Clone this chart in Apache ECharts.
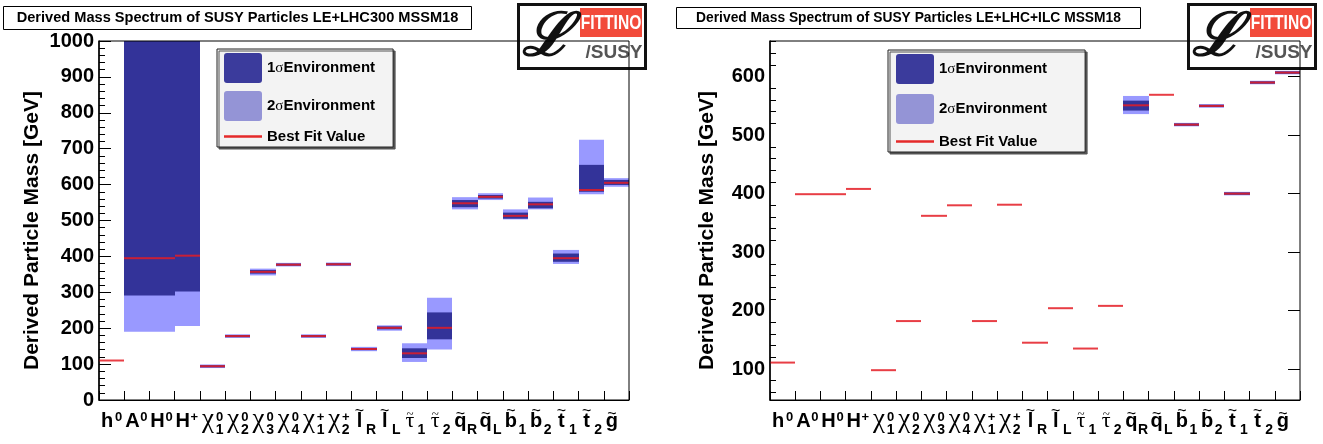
<!DOCTYPE html>
<html>
<head>
<meta charset="utf-8">
<script src="https://cdn.jsdelivr.net/npm/echarts@6/dist/echarts.min.js"></script>
<style>
  html, body { margin: 0; padding: 0; background: #ffffff; }
  #chart { width: 1323px; height: 444px; }
</style>
</head>
<body>
<div id="chart"></div>
<script>
// Particle categories (h0 ... gluino) and their axis label markup
const particles = ['h0', 'A0', 'H0', 'H+', 'chi10', 'chi20', 'chi30', 'chi40', 'chi1+', 'chi2+',
  'lR', 'lL', 'tau1', 'tau2', 'qR', 'qL', 'b1', 'b2', 't1', 't2', 'g'];
const particleLabels = [
  '{n| }{sp|0}\n{b|h}{sb| }',
  '{n| }{sp|0}\n{b|A}{sb| }',
  '{n| }{sp|0}\n{b|H}{sb| }',
  '{n| }{sp|+}\n{b|H}{sb| }',
  '{n| }{sp|0}\n{g|χ}{sb|1}',
  '{n| }{sp|0}\n{g|χ}{sb|2}',
  '{n| }{sp|0}\n{g|χ}{sb|3}',
  '{n| }{sp|0}\n{g|χ}{sb|4}',
  '{n| }{sp|+}\n{g|χ}{sb|1}',
  '{n| }{sp|+}\n{g|χ}{sb|2}',
  '{tl|~}{sp| }\n{b|l}{sb|R}',
  '{tl|~}{sp| }\n{b|l}{sb|L}',
  '{tg|~}{sp| }\n{t|τ}{sb|1}',
  '{tg|~}{sp| }\n{t|τ}{sb|2}',
  '{tx|~}{sp| }\n{b|q}{sb|R}',
  '{tx|~}{sp| }\n{b|q}{sb|L}',
  '{tl|~}{sp| }\n{b|b}{sb|1}',
  '{tl|~}{sp| }\n{b|b}{sb|2}',
  '{tl|~}{sp| }\n{b|t}{sb|1}',
  '{tl|~}{sp| }\n{b|t}{sb|2}',
  '{tx|~}{sp| }\n{b|g}{sb| }'
];

// LE+LHC300 fit: best fit masses and 1σ / 2σ environments [GeV]
const lhcBest   = [110, 395, 395, 402,  94, 178, 357, 377, 178, 378, 142, 201, 130, 201, 548, 566, 513, 545, 395, 585, 605];
const lhcSig1Lo = [null, 291, 291, 302,  91, 175, 352, 374, 175, 375, 139, 197, 117, 169, 537, 561, 505, 534, 385, 580, 599];
const lhcSig1Hi = [null, 1000, 1000, 1000, 97, 181, 362, 380, 181, 381, 145, 205, 144, 244, 557, 571, 522, 552, 408, 655, 613];
const lhcSig2Lo = [null, 190, 190, 206,  89, 173, 347, 372, 173, 373, 136, 193, 106, 141, 531, 557, 503, 531, 379, 573, 594];
const lhcSig2Hi = [null, 1000, 1000, 1000, 99, 183, 366, 382, 183, 383, 148, 208, 158, 285, 565, 576, 531, 564, 418, 725, 618];

// LE+LHC+ILC fit
const ilcBest   = [111, 399, 399, 408,  98, 182, 362, 380, 182, 381, 145, 204, 135, 208, 551, 569, 518, 550, 400, 590, 607];
const ilcSig1Lo = [null, null, null, null, null, null, null, null, null, null, null, null, null, null, 542, null, 516, 548, 398, 588, 605];
const ilcSig1Hi = [null, null, null, null, null, null, null, null, null, null, null, null, null, null, 559, null, 520, 552, 402, 592, 609];
const ilcSig2Lo = [null, null, null, null, null, null, null, null, null, null, null, null, null, null, 536, null, 515, 547, 397, 587, 604];
const ilcSig2Hi = [null, null, null, null, null, null, null, null, null, null, null, null, null, null, 567, null, 521, 553, 403, 593, 610];

// Axis ticks
const lhcMassTicks = [0, 100, 200, 300, 400, 500, 600, 700, 800, 900, 1000];
const ilcMassTicks = [100, 200, 300, 400, 500, 600];
const ilcMinorTicks = [60, 80, 120, 140, 160, 180, 220, 240, 260, 280, 320, 340, 360, 380,
  420, 440, 460, 480, 520, 540, 560, 580, 620, 640, 660];

const titleLeft = 'Derived Mass Spectrum of SUSY Particles LE+LHC300 MSSM18';
const titleRight = 'Derived Mass Spectrum of SUSY Particles LE+LHC+ILC MSSM18';
const yTitle = 'Derived Particle Mass [GeV]';
const legendNames = ['1σEnvironment', '2σEnvironment', 'Best Fit Value'];

const SANS = '"Liberation Sans", Arial, Helvetica, sans-serif';
const SERIF = '"Liberation Serif", "DejaVu Serif", "Times New Roman", serif';
const DARK = '#333399';
const LIGHT = '#9999ff';
const RED = 'rgba(228, 28, 36, 0.85)';

const chart = echarts.init(document.getElementById('chart'), null, { renderer: 'canvas' });

// one filled box per category between lo and hi, clipped to the frame
function renderBand(params, api) {
  const lo = api.value(1), hi = api.value(2);
  if (lo == null || hi == null || isNaN(lo) || isNaN(hi)) return;
  const top = api.coord([api.value(0), hi]);
  const bottom = api.coord([api.value(0), lo]);
  const w = api.size([1, 0])[0];
  const x0 = Math.round(top[0] - w / 2), x1 = Math.round(top[0] + w / 2);
  const cs = params.coordSys;
  const rect = echarts.graphic.clipRectByRect(
    { x: x0, y: top[1], width: x1 - x0, height: bottom[1] - top[1] },
    { x: cs.x, y: cs.y, width: cs.width, height: cs.height }
  );
  if (!rect) return;
  return { type: 'rect', shape: rect, style: { fill: api.visual('color') } };
}

// horizontal best-fit marker across the category width
function renderBest(params, api) {
  const v = api.value(1);
  if (v == null || isNaN(v)) return;
  const p = api.coord([api.value(0), v]);
  const w = api.size([1, 0])[0];
  return {
    type: 'line',
    shape: { x1: Math.round(p[0] - w / 2), y1: p[1], x2: Math.round(p[0] + w / 2), y2: p[1] },
    style: { stroke: RED, lineWidth: 2 }
  };
}

function bandSeries(name, gridIdx, yIdx, lo, hi, color) {
  return {
    type: 'custom', name: name, xAxisIndex: gridIdx, yAxisIndex: yIdx,
    renderItem: renderBand, itemStyle: { color: color },
    encode: { x: 0, y: [1, 2] },
    data: lo.map((v, i) => [i, v, hi[i]]),
    silent: true
  };
}

function bestSeries(gridIdx, yIdx, best) {
  return {
    type: 'custom', name: legendNames[2], xAxisIndex: gridIdx, yAxisIndex: yIdx,
    renderItem: renderBest, itemStyle: { color: '#e52a2a' },
    encode: { x: 0, y: 1 },
    data: best.map((v, i) => [i, v]),
    silent: true
  };
}

// tokens: top row = accent + superscript, bottom row = symbol + subscript
const tok = { lineHeight: 2, height: 2, verticalAlign: 'top', align: 'center' };
const labelRich = {
  n:  Object.assign({}, tok, { width: 14, fontSize: 14 }),
  tl: Object.assign({}, tok, { width: 14, fontSize: 16, fontFamily: SANS, padding: [3.5, 0, 0, 0] }),
  tx: Object.assign({}, tok, { width: 14, fontSize: 16, fontFamily: SANS, padding: [7, 0, 0, 0] }),
  tg: Object.assign({}, tok, { width: 14, fontSize: 13, fontFamily: SERIF, padding: [7, 0, 0, 0] }),
  sp: Object.assign({}, tok, { width: 9, fontSize: 13, fontWeight: 'bold', fontFamily: SANS, padding: [9.5, 0, 0, 0] }),
  b:  Object.assign({}, tok, { width: 14, fontSize: 20, fontWeight: 'bold', fontFamily: SANS, padding: [11, 0, 0, 0] }),
  g:  Object.assign({}, tok, { width: 14, fontSize: 27, fontFamily: SERIF, padding: [10, 0, 0, 0] }),
  t:  Object.assign({}, tok, { width: 14, fontSize: 22, fontFamily: SERIF, padding: [11, 0, 0, 0] }),
  sb: Object.assign({}, tok, { width: 9, fontSize: 14, fontWeight: 'bold', fontFamily: SANS, padding: [20.5, 0, 0, 0] })
};

function xAxisFor(gridIdx) {
  return {
    type: 'category', gridIndex: gridIdx, data: particles,
    boundaryGap: true,
    axisLine: { show: true, lineStyle: { color: '#000', width: 1 } },
    axisTick: { show: true, inside: true, length: 9, lineStyle: { color: '#000' } },
    axisLabel: {
      interval: 0, margin: 7, color: '#000',
      formatter: (value, index) => particleLabels[index],
      rich: labelRich
    },
    splitLine: { show: false }
  };
}

const yLabelStyle = { color: '#000', fontSize: 20, fontWeight: 'bold', fontFamily: SANS, margin: 5, formatter: v => String(v) };
const yNameStyle = { color: '#000', fontSize: 21, fontWeight: 'bold', fontFamily: SANS, padding: [0, 20, 0, 0] };

function logo(x0) {
  return {
    type: 'group', x: x0, y: 3, z: 1,
    children: [
      { type: 'rect', shape: { x: 1.5, y: 1.5, width: 127, height: 64 }, style: { fill: '#fff', stroke: '#111', lineWidth: 3 } },
      { type: 'rect', shape: { x: 63, y: 5, width: 62, height: 29 }, style: { fill: '#f24b3b' } },
      { type: 'text', x: 94, y: 20, scaleX: 0.78, style: { text: 'FITTINO', fill: '#fff', font: 'bold 20px ' + SANS, align: 'center', verticalAlign: 'middle' } },
      { type: 'text', x: 5, y: 36, style: { text: 'ℒ', fill: '#111', font: 'italic bold 60px "DejaVu Serif", serif', verticalAlign: 'middle', shadowBlur: 3, shadowColor: 'rgba(0,0,0,0.5)' } },
      { type: 'text', x: 97, y: 50, style: { text: '/SUSY', fill: '#555', font: 'bold 19px ' + SANS, align: 'center', verticalAlign: 'middle', shadowBlur: 2, shadowColor: 'rgba(0,0,0,0.4)' } }
    ]
  };
}

const roundBox = 'path://M3,0H35Q38,0 38,3V27Q38,30 35,30H3Q0,30 0,27V3Q0,0 3,0Z';
const lineIcon = 'path://M0,0H40V2.5H0Z';

function legendFor(left, top, padding, gap, h) {
  return {
    left: left, top: top, orient: 'vertical', padding: padding, itemGap: gap,
    itemWidth: 38, itemHeight: h, selectedMode: false,
    backgroundColor: '#f3f3f3', borderColor: '#222', borderWidth: 1,
    shadowColor: '#555', shadowOffsetX: 2, shadowOffsetY: 2, shadowBlur: 0,
    data: [
      { name: legendNames[0], icon: roundBox, itemStyle: { color: '#3b3b9c' } },
      { name: legendNames[1], icon: roundBox, itemStyle: { color: '#9494d6' } },
      { name: legendNames[2], icon: lineIcon, itemStyle: { color: '#e52a2a' } }
    ],
    formatter: name => name.replace('σ', '{s|σ}'),
    textStyle: {
      color: '#000', fontSize: 15, fontWeight: 'bold', fontFamily: SANS,
      rich: { s: { fontSize: 15, fontFamily: SERIF, fontWeight: 'normal', color: '#000' } }
    }
  };
}

function titleFor(left, text, width, size) {
  return {
    left: left, top: 6, padding: [4, 5, 4, 5],
    backgroundColor: '#fff', borderColor: '#000', borderWidth: 1,
    text: '{t|' + text + '}',
    textStyle: { rich: { t: { width: width, align: 'center', fontSize: size, lineHeight: 16, fontWeight: 'bold', fontFamily: SANS, color: '#000' } } }
  };
}

const option = {
  animation: false,
  backgroundColor: '#ffffff',
  title: [titleFor(3, titleLeft, 459, 14.6), titleFor(676, titleRight, 455, 13.8)],
  legend: [legendFor(217, 49, [4, 18, 3, 7], 8, 30), legendFor(888, 50, [4, 38, 3, 8], 10, 31)],
  grid: [
    { left: 99, top: 41, width: 530, height: 359, show: true, borderColor: '#000', borderWidth: 1, z: 3 },
    { left: 770, top: 41, width: 530, height: 359, show: true, borderColor: '#000', borderWidth: 1, z: 3 }
  ],
  xAxis: [xAxisFor(0), xAxisFor(1)],
  yAxis: [
    {
      type: 'value', gridIndex: 0, min: 0, max: 1000, interval: 100,
      axisLine: { show: true, lineStyle: { color: '#000', width: 1.5 } },
      axisTick: { show: true, inside: true, length: 12, lineStyle: { color: '#000' } },
      minorTick: { show: true, splitNumber: 5, length: 6, lineStyle: { color: '#000' } },
      axisLabel: Object.assign({ customValues: lhcMassTicks }, yLabelStyle),
      splitLine: { show: false },
      name: yTitle, nameLocation: 'middle', nameRotate: 90, nameGap: 56, nameTextStyle: yNameStyle
    },
    {
      type: 'value', gridIndex: 1, min: 47, max: 661,
      axisLine: { show: true, lineStyle: { color: '#000', width: 1.5 } },
      axisTick: { show: true, inside: true, length: 6, customValues: ilcMinorTicks, lineStyle: { color: '#000' } },
      axisLabel: Object.assign({ customValues: ilcMassTicks }, yLabelStyle),
      splitLine: { show: false },
      name: yTitle, nameLocation: 'middle', nameRotate: 90, nameGap: 52, nameTextStyle: yNameStyle
    },
    {
      type: 'value', gridIndex: 1, min: 47, max: 661,
      axisLine: { show: false },
      axisTick: { show: true, inside: true, length: 12, customValues: ilcMassTicks, lineStyle: { color: '#000' } },
      axisLabel: { show: false },
      splitLine: { show: false }
    }
  ],
  graphic: [logo(517), logo(1187)],
  series: [
    bandSeries(legendNames[1], 0, 0, lhcSig2Lo, lhcSig2Hi, LIGHT),
    bandSeries(legendNames[0], 0, 0, lhcSig1Lo, lhcSig1Hi, DARK),
    bestSeries(0, 0, lhcBest),
    bandSeries(legendNames[1], 1, 1, ilcSig2Lo, ilcSig2Hi, LIGHT),
    bandSeries(legendNames[0], 1, 1, ilcSig1Lo, ilcSig1Hi, DARK),
    bestSeries(1, 1, ilcBest)
  ]
};

chart.setOption(option);
</script>
</body>
</html>
